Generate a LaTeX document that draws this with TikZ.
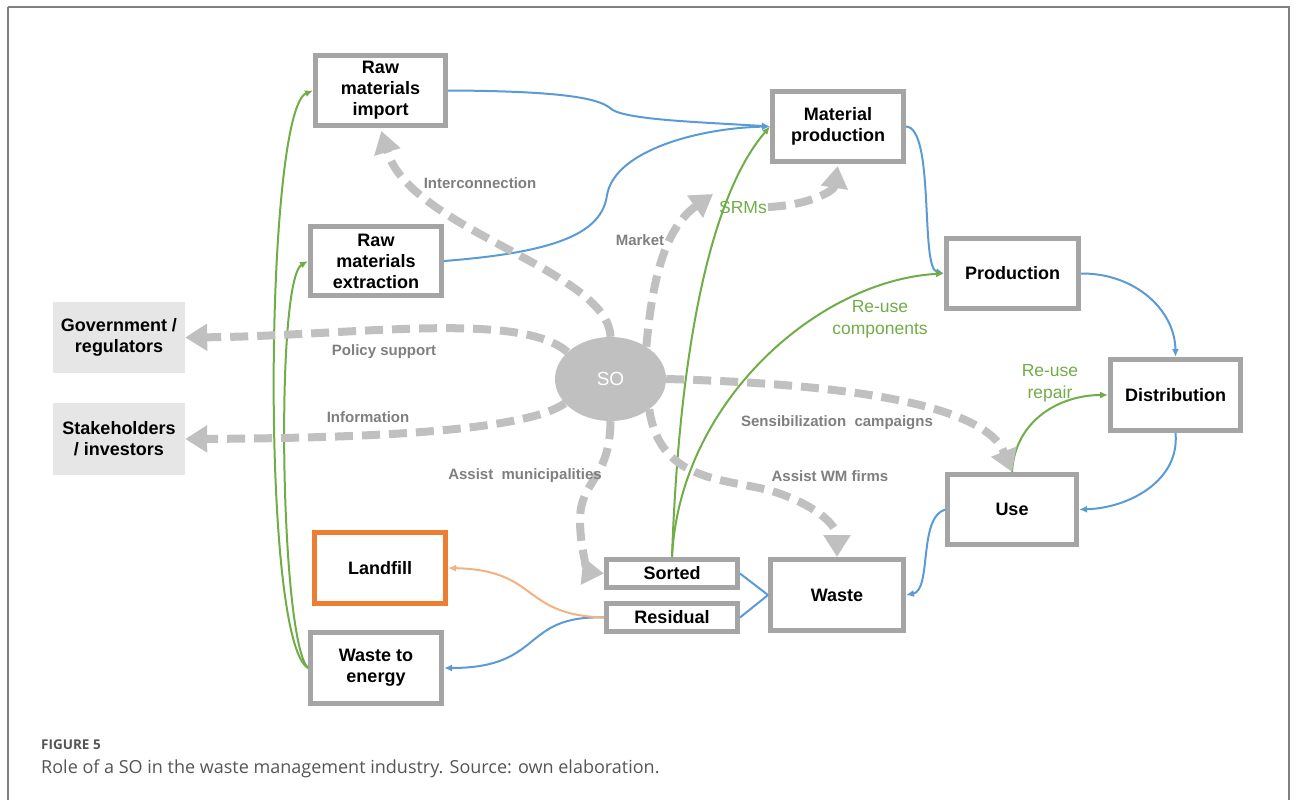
\documentclass[tikz,border=0pt]{standalone}
\usepackage{fontspec}
\setmainfont{Liberation Sans}
\newfontfamily\capfont{Open Sans}
\usetikzlibrary{arrows.meta,shapes.geometric}
\definecolor{boxgray}{HTML}{A5A5A5}
\definecolor{dgray}{HTML}{C0C0C0}
\definecolor{lblgray}{HTML}{7F7F7F}
\definecolor{fillgray}{HTML}{E7E6E6}
\definecolor{bl}{HTML}{5B9BD5}
\definecolor{gr}{HTML}{70AD47}
\definecolor{orng}{HTML}{ED7D31}
\definecolor{lorng}{HTML}{F4B183}
\definecolor{framegray}{HTML}{808080}
\definecolor{capgray}{HTML}{555555}
\tikzset{
  box/.style={draw=boxgray, line width=5pt, fill=white, align=center,
    font=\fontsize{18}{21}\selectfont\bfseries, inner sep=2pt},
  sidebox/.style={fill=fillgray, align=center,
    font=\fontsize{18}{21}\selectfont\bfseries, inner sep=2pt},
  dlabel/.style={text=lblgray, font=\fontsize{15}{18}\selectfont\bfseries, inner sep=1pt},
  glabel/.style={text=gr, font=\fontsize{17.5}{22}\selectfont, align=center, inner sep=1pt},
  dasharrow/.style={draw=dgray, line width=8pt, dash pattern=on 18pt off 9pt,
    -{Triangle[length=22pt,width=26pt]}},
  blarrow/.style={draw=bl, line width=2pt, -{Latex[length=8pt,width=7pt]}},
  blline/.style={draw=bl, line width=2pt},
  grarrow/.style={draw=gr, line width=2pt, -{Latex[length=8pt,width=7pt]}},
  orarrow/.style={draw=lorng, line width=2pt, -{Latex[length=8pt,width=7pt]}},
}
\begin{document}
\begin{tikzpicture}[x=1pt,y=-1pt]
\useasboundingbox (0,0) rectangle (1296,800);
\draw[framegray, line width=2pt] (7.5,7.5) -- (1288.5,7.5) -- (1288.5,812) (7.5,7.5) -- (7.5,812);

% nodes
\node[box, minimum width=130pt, minimum height=70pt] (rmi) at (380.5,90.5) {Raw\\materials\\import};
\node[box, minimum width=131pt, minimum height=69pt] (rme) at (376,261) {Raw\\materials\\extraction};
\node[box, minimum width=131pt, minimum height=70pt] (mp) at (838,126.5) {Material\\production};
\node[box, minimum width=132pt, minimum height=70pt] (prod) at (1012.5,273.5) {Production};
\node[box, minimum width=130pt, minimum height=71pt] (dist) at (1175.5,395) {Distribution};
\node[box, minimum width=129pt, minimum height=70pt] (use) at (1012,509.5) {Use};
\node[box, minimum width=133pt, minimum height=71pt] (waste) at (837,595) {Waste};
\node[box, minimum width=131pt, minimum height=28pt] (sorted) at (672,573.5) {Sorted};
\node[box, minimum width=131pt, minimum height=28pt] (residual) at (672,617.5) {Residual};
\node[box, draw=orng, minimum width=131pt, minimum height=71pt] (landfill) at (380,568) {Landfill};
\node[box, minimum width=131pt, minimum height=71pt] (wte) at (376,668) {Waste to\\energy};
\node[sidebox, minimum width=132pt, minimum height=71pt] (gov) at (119,337.5) {Government /\\regulators};
\node[sidebox, minimum width=132pt, minimum height=72pt] (stake) at (119,439) {Stakeholders\\/ investors};
\node[ellipse, fill=dgray, minimum width=111pt, minimum height=84pt, inner sep=0pt,
  text=white, font=\fontsize{19}{22}\selectfont] (so) at (610.5,379) {SO};

\node[glabel] (srms) at (743,207) {SRMs};
\coordinate (mkt) at (713,194);

% blue flows
\draw[blarrow] (rmi.east) .. controls (560,91) and (598,98) .. (610,108)
  .. controls (622,120) and (700,122) .. (mp.west);
\draw[blarrow] (rme.east) .. controls (560,252) and (602,232) .. (607,195)
  .. controls (615,150) and (700,128) .. (mp.west);
\draw[blarrow] (mp.east) .. controls (935,128) and (920,268) .. (prod.west);
\draw[blarrow] (prod.east) .. controls (1135,273) and (1175,310) .. (dist.north);
\draw[blarrow] (dist.south) .. controls (1180,480) and (1130,508) .. (use.east);
\draw[blarrow] (use.west) .. controls (918,518) and (932,590) .. (waste.east);
\draw[blline] (sorted.east) -- (waste.west);
\draw[blline] (residual.east) -- (waste.west);
\draw[blarrow] (residual.west) .. controls (520,615) and (545,668) .. (wte.east);
\draw[orarrow] (residual.west) .. controls (520,615) and (540,570) .. (landfill.east);

% green flows
\draw[grarrow] (sorted.north) .. controls (680,330) and (715,190) .. (mp.west);
\draw[grarrow] (sorted.north) .. controls (680,400) and (820,280) .. (prod.west);
\draw[grarrow] (use.north) .. controls (1015,420) and (1060,395) .. (dist.west);
\draw[grarrow] (wte.west) .. controls (260,640) and (265,110) .. (rmi.west);
\draw[grarrow] (wte.west) .. controls (280,640) and (275,280) .. (rme.west);

% dashed SO arrows
\draw[dasharrow, shorten >=3pt] (so.north) .. controls (608,270) and (410,230) .. (rmi.south);
\draw[dasharrow] (so.42) .. controls (652,280) and (665,228) .. (mkt);
\draw[dasharrow, shorten >=2pt] (srms.east) .. controls (812,205) and (834,190) .. (mp.south);
\draw[dasharrow] (so.148) .. controls (520,310) and (350,336) .. (gov.east);
\draw[dasharrow] (so.208) .. controls (530,428) and (400,438) .. (stake.east);
\draw[dasharrow] (so.east) .. controls (850,384) and (985,405) .. (use.north);
\draw[dasharrow] (so.322) .. controls (660,485) and (730,478) .. (775,492)
  .. controls (815,505) and (837,525) .. (waste.north);
\draw[dasharrow] (so.south) .. controls (610,480) and (580,480) .. (580,520)
  .. controls (580,552) and (590,572) .. (sorted.west);

% labels
\node[dlabel] (lint) at (480,183) {Interconnection};
\node[dlabel] (lmkt) at (640,240) {Market};
\node[dlabel] (lpol) at (384,352) {Policy support};
\node[dlabel] (linf) at (368,417) {Information};
\node[dlabel] (lmun) at (525,476) {Assist\ \ municipalities};
\node[dlabel] (lwm) at (830,476) {Assist WM firms};
\node[dlabel] (lsen) at (837,423) {Sensibilization\ \ campaigns};
\node[glabel] (lcomp) at (880,319) {Re-use\\components};
\node[glabel] (lrep) at (1050,383) {Re-use\\repair};

% caption
\node[anchor=west, inner sep=0pt, text=capgray, font=\capfont\bfseries\fontsize{13.5}{16}\selectfont] (fig) at (41,745) {FIGURE 5};
\node[anchor=west, inner sep=0pt, text=capgray, font=\capfont\fontsize{18}{22}\selectfont] (cap) at (41,769) {Role of a SO in the waste management industry. Source: own elaboration.};
\end{tikzpicture}
\end{document}
